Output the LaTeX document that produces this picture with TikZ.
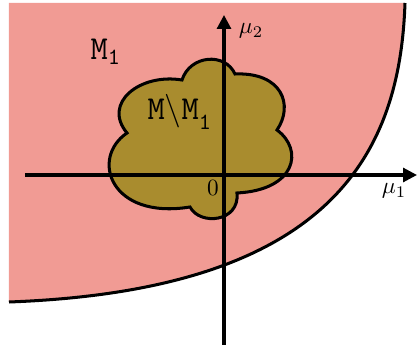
\documentclass[tikz,border=0pt]{standalone}
\usepackage{xcolor}
\usepackage{tikz}
\usetikzlibrary{arrows.meta}
\definecolor{regionpink}{RGB}{241,155,148}
\definecolor{blobolive}{RGB}{169,140,46}

\begin{document}
\begin{tikzpicture}[x=0.43pt, y=-0.43pt,
    axis/.style={line width=1.3pt, -{Triangle[length=6pt,width=6pt]}},
    edge/.style={line width=1.3pt}]
  \useasboundingbox (0,0) rectangle (417,345);
  % region M_1
  \fill[regionpink] (9,3) -- (405,3)
    .. controls (400,150) and (335,290) .. (9,302) -- cycle;
  \draw[edge] (405,3) .. controls (400,150) and (335,290) .. (9,302);
  % set M \ M_1
  \filldraw[edge, fill=blobolive] (182,80)
    .. controls (190,55) and (225,52) .. (235,74)
    .. controls (282,72) and (294,105) .. (277,130)
    .. controls (304,150) and (296,190) .. (237,193)
    .. controls (240,222) and (200,226) .. (190,207)
    .. controls (110,220) and (90,158) .. (127,133)
    .. controls (102,103) and (140,73) .. (182,80) -- cycle;
  % axes
  \coordinate (xstart) at (25,175);
  \coordinate (xend) at (417,175);
  \coordinate (ystart) at (224,345);
  \coordinate (yend) at (224,15);
  \draw[axis] (xstart) -- (xend);
  \draw[axis] (ystart) -- (yend);
  \node (origin) at (213,188) {$0$};
  \node (mu1) at (394,191) {$\mu_1$};
  \node (mu2) at (251,31) {$\mu_2$};
  \node (setM1) at (106,52) {\Large $\mathtt{M}_{\mathtt{1}}$};
  \node (setdiff) at (180,112) {\Large $\mathtt{M\backslash M}_{\mathtt{1}}$};
\end{tikzpicture}
\end{document}
